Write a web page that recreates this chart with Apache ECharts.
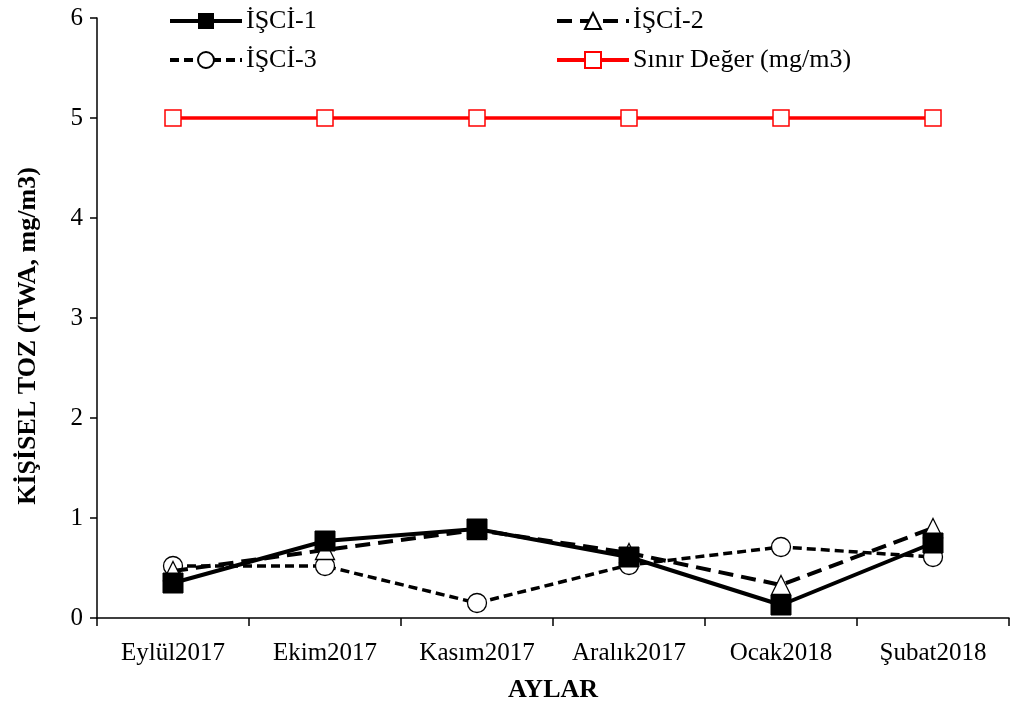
<!DOCTYPE html>
<html>
<head>
<meta charset="utf-8">
<script src="https://cdn.jsdelivr.net/npm/echarts@6/dist/echarts.min.js"></script>
<style>
  html, body { margin: 0; padding: 0; background: #fff; }
  #main { width: 1012px; height: 701px; }
</style>
</head>
<body>
<div id="main"></div>
<script>
// aylar (kategori)
const months = ['Eylül2017', 'Ekim2017', 'Kasım2017', 'Aralık2017', 'Ocak2018', 'Şubat2018']
// ölçüm değerleri (mg/m3)
const isci1 = [0.35, 0.77, 0.89, 0.61, 0.13, 0.75]
const isci2 = [0.47, 0.68, 0.88, 0.65, 0.33, 0.90]
const isci3 = [0.52, 0.52, 0.15, 0.53, 0.71, 0.61]
const sinir = [5, 5, 5, 5, 5, 5]
const yTicks = [0, 1, 2, 3, 4, 5, 6]

const font = "'Liberation Serif', 'Times New Roman', serif"

const legendText = { fontFamily: font, fontSize: 26, color: '#000', padding: [0, 0, 0, -1] }

const chart = echarts.init(document.getElementById('main'))
chart.setOption({
  backgroundColor: '#fff',
  textStyle: { fontFamily: font },
  legend: [{
    data: ['İŞCİ-1', 'İŞCİ-3'],
    orient: 'vertical',
    left: 163,
    top: 3,
    itemWidth: 72,
    itemHeight: 20,
    itemGap: 13,
    lineStyle: { width: 4 },
    textStyle: legendText
  }, {
    data: ['İŞCİ-2', 'Sınır Değer (mg/m3)'],
    orient: 'vertical',
    left: 550,
    top: 3,
    itemWidth: 72,
    itemHeight: 20,
    itemGap: 13,
    lineStyle: { width: 4 },
    textStyle: legendText
  }],
  grid: { left: 97, right: 3, top: 18, bottom: 83, outerBoundsMode: 'none' },
  xAxis: {
    type: 'category',
    data: months,
    boundaryGap: true,
    name: 'AYLAR',
    nameLocation: 'middle',
    nameGap: 59,
    nameTextStyle: { fontFamily: font, fontSize: 26, fontWeight: 'bold', color: '#000' },
    axisLine: { lineStyle: { color: '#000', width: 1.5 } },
    axisTick: { show: true, interval: 0, length: 8, lineStyle: { color: '#000', width: 1.5 } },
    axisLabel: { fontFamily: font, fontSize: 25, color: '#000', margin: 23, interval: 0 },
    splitLine: { show: false }
  },
  yAxis: {
    type: 'value',
    min: yTicks[0],
    max: yTicks[yTicks.length - 1],
    interval: 1,
    name: 'KİŞİSEL TOZ (TWA, mg/m3)',
    nameLocation: 'middle',
    nameGap: 56,
    // padding kaydırma: başlık referansta biraz aşağıda
    nameTextStyle: { fontFamily: font, fontSize: 26, fontWeight: 'bold', color: '#000', padding: [0, 36, 0, 0] },
    axisLine: { show: true, lineStyle: { color: '#000', width: 1.5 } },
    axisTick: { show: true, length: 7, lineStyle: { color: '#000', width: 1.5 } },
    axisLabel: { fontFamily: font, fontSize: 25, color: '#000', margin: 14 },
    splitLine: { show: false }
  },
  series: [{
    name: 'İŞCİ-1',
    type: 'line',
    data: isci1,
    symbol: 'rect',
    symbolSize: 20,
    lineStyle: { color: '#000', width: 4, type: 'solid' },
    itemStyle: { color: '#000', borderColor: '#000' },
    z: 4
  }, {
    name: 'İŞCİ-2',
    type: 'line',
    data: isci2,
    symbol: 'triangle',
    symbolSize: 19,
    lineStyle: { color: '#000', width: 4, type: [15, 8] },
    itemStyle: { color: '#fff', borderColor: '#000', borderWidth: 1.3 },
    z: 3
  }, {
    name: 'İŞCİ-3',
    type: 'line',
    data: isci3,
    symbol: 'circle',
    symbolSize: 19,
    lineStyle: { color: '#000', width: 3.5, type: [9, 5] },
    itemStyle: { color: '#fff', borderColor: '#000', borderWidth: 1.3 },
    z: 2
  }, {
    name: 'Sınır Değer (mg/m3)',
    type: 'line',
    data: sinir,
    symbol: 'rect',
    symbolSize: 16,
    lineStyle: { color: '#ff0000', width: 3.5 },
    itemStyle: { color: '#fff', borderColor: '#ff0000', borderWidth: 1.5 },
    z: 2
  }]
})
</script>
</body>
</html>
